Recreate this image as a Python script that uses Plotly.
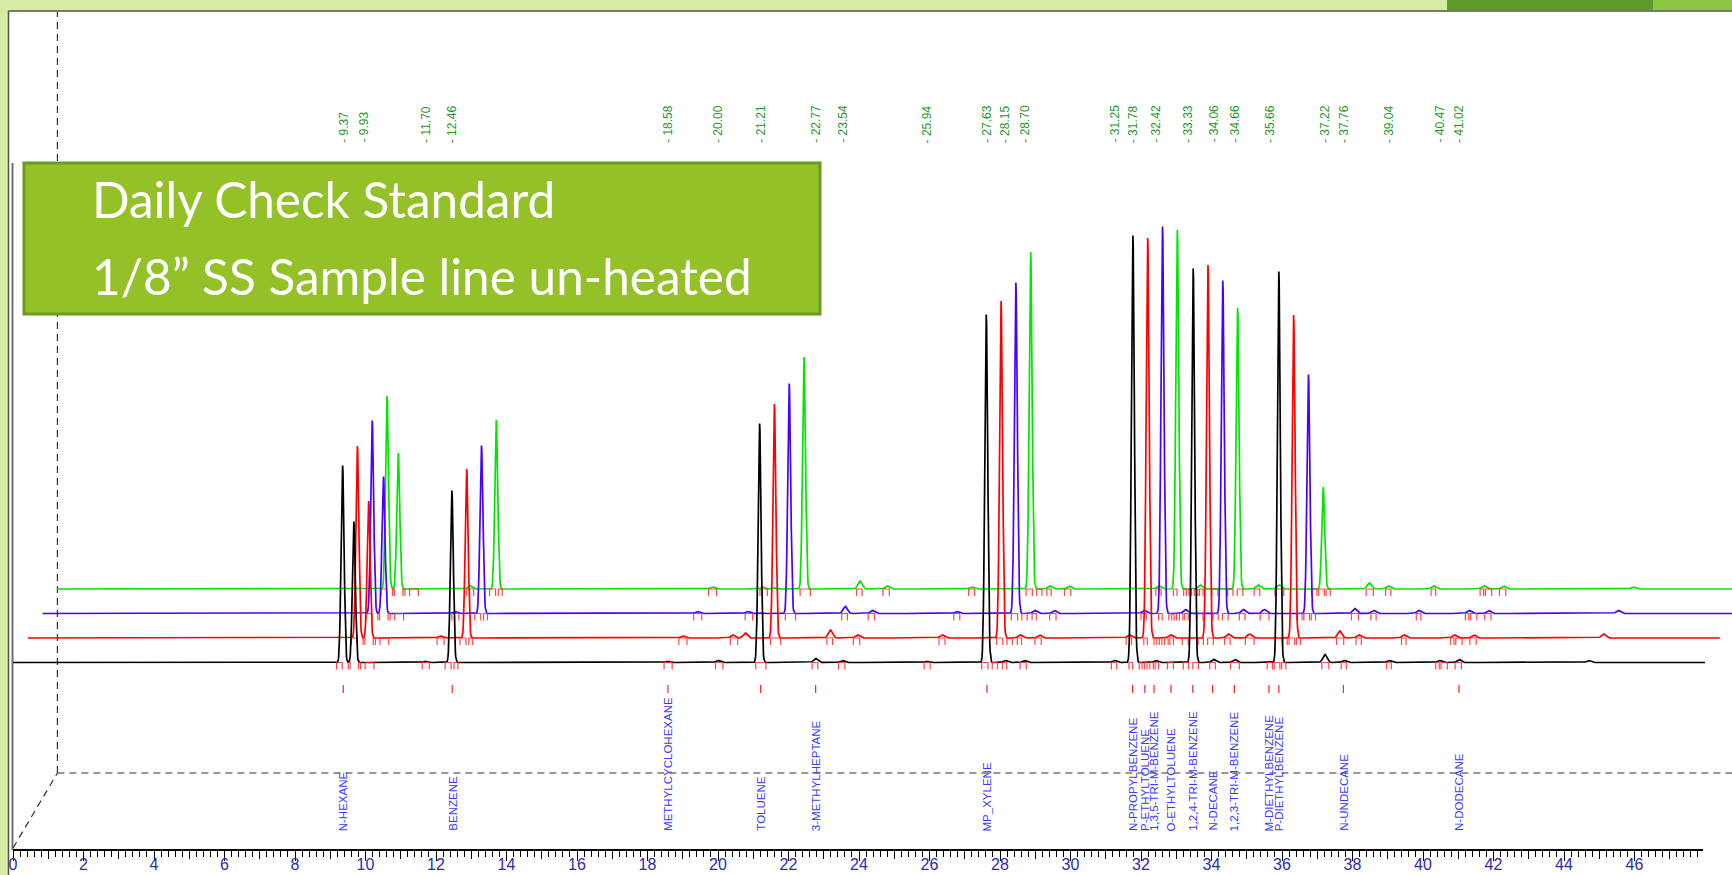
import numpy as np
import plotly.graph_objects as go

# ---------------- data ----------------
# main peaks (retention time, min) and heights of the four runs
peak_rt = [9.35, 9.67, 12.45, 21.18, 27.61, 31.77, 33.48, 35.91]
h_black = [197, 141, 172, 239, 348, 427, 394, 391]
h_red = [192, 137, 169, 234, 337, 400, 373, 323]
h_blue = [193, 137, 168, 230, 331, 387, 333, 239]
h_green = [193, 136, 169, 232, 337, 359, 281, 102]

# small peaks / bumps
minor_rt = [11.70, 18.58, 20.00, 20.35, 22.77, 23.54, 25.94, 28.15, 28.70, 31.25,
            32.42, 34.06, 34.66, 37.22, 37.76, 39.04, 40.47, 41.02, 44.70]
m_black = [1, 1, 2, 0, 4, 2, 1, 2, 2, 2, 2, 3, 3, 8, 2, 2, 2, 3, 2]
m_red = [2, 2, 3, 5, 8, 3, 3, 3, 3, 3, 3, 4, 4, 7, 3, 3, 3, 3, 4]
m_blue = [2, 2, 2, 1, 7, 3, 2, 3, 3, 3, 4, 4, 4, 5, 3, 3, 3, 3, 3]
m_green = [3, 2, 2, 1, 8, 3, 2, 3, 3, 3, 4, 4, 4, 6, 3, 3, 3, 3, 2]

# integration windows (start, end) of detected peaks
win_start = [9.18, 9.51, 9.80, 9.99, 11.61, 12.26, 12.51, 18.47, 19.93, 21.07, 22.67, 23.42,
             25.85, 27.48, 27.78, 28.07, 28.57, 31.16, 31.66, 31.95, 32.10, 32.25, 32.40,
             32.75, 33.20, 33.47, 33.95, 34.54, 35.58, 35.78, 35.99, 37.13, 37.68, 38.97,
             40.36, 40.51, 40.91]
win_end = [9.34, 9.56, 9.86, 10.24, 11.81, 12.43, 12.62, 18.70, 20.14, 21.36, 22.83, 23.60,
           26.02, 27.66, 27.93, 28.19, 28.75, 31.31, 31.76, 32.03, 32.17, 32.35, 32.50,
           32.92, 33.35, 33.63, 34.11, 34.79, 35.73, 35.94, 36.11, 37.33, 37.83, 39.10,
           40.46, 40.69, 41.09]

# retention time labels (top)
rt_labels = ["9.37", "9.93", "11.70", "12.46", "18.58", "20.00", "21.21", "22.77", "23.54",
             "25.94", "27.63", "28.15", "28.70", "31.25", "31.78", "32.42", "33.33", "34.06",
             "34.66", "35.66", "37.22", "37.76", "39.04", "40.47", "41.02"]

# identified compounds (bottom)
comp_names = ["N-HEXANE", "BENZENE", "METHYLCYCLOHEXANE", "TOLUENE", "3-METHYLHEPTANE",
              "MP_XYLENE", "N-PROPYLBENZENE", "P-ETHYLTOLUENE", "1,3,5-TRI-M-BENZENE",
              "O-ETHYLTOLUENE", "1,2,4-TRI-M-BENZENE", "N-DECANE", "1,2,3-TRI-M-BENZENE",
              "M-DIETHYLBENZENE", "P-DIETHYLBENZENE", "N-UNDECANE", "N-DODECANE"]
comp_rt = [9.37, 12.46, 18.58, 21.21, 22.77, 27.63, 31.76, 32.11, 32.37, 32.85, 33.47,
           34.03, 34.65, 35.63, 35.91, 37.74, 41.02]

# ---------------- geometry / style ----------------
W, H = 1732, 875
PX = 35.25          # px per minute
X0 = 13             # px of t = 0
YB = 662.5          # px row of the front (black) baseline
AXIS_PX = 850       # px row of the time axis
T_END = 48.0

run_colors = ["#000000", "#ff0000", "#4a00ff", "#00e600"]
run_dx = [0.0, 0.42, 0.84, 1.26]       # pseudo-3D shift (min)
run_dy = [0.0, 24.5, 49.0, 73.5]       # pseudo-3D shift (px units)

t = np.round(np.arange(0, T_END + 1e-9, 0.01), 3)


def chrom(hmain, hminor):
    y = np.zeros_like(t)
    for r, h in zip(peak_rt, hmain):
        y += h * np.exp(-0.5 * ((t - r) / 0.042) ** 2)
    for r, h in zip(minor_rt, hminor):
        y += h * np.exp(-0.5 * ((t - r) / 0.06) ** 2)
    return y


runs = [(h_black, m_black), (h_red, m_red), (h_blue, m_blue), (h_green, m_green)]

fig = go.Figure()

# draw from back to front
for k in [3, 2, 1, 0]:
    hm, hn = runs[k]
    y = chrom(hm, hn) + run_dy[k]
    fig.add_trace(go.Scatter(x=t + run_dx[k], y=y, mode="lines",
                             line=dict(color=run_colors[k], width=1.7),
                             hoverinfo="skip", showlegend=False))
    # integration markers
    mx, my = [], []
    for s, e in zip(win_start, win_end):
        mx += [s + run_dx[k], s + run_dx[k], e + run_dx[k], e + run_dx[k], None]
        my += [run_dy[k] - 7, run_dy[k], run_dy[k], run_dy[k] - 7, None]
    fig.add_trace(go.Scatter(x=mx, y=my, mode="lines",
                             line=dict(color="rgba(255,40,40,0.85)", width=1.2),
                             hoverinfo="skip", showlegend=False))

# identification ticks (front axis)
ix, iy = [], []
for r in comp_rt:
    ix += [r, r, None]
    iy += [YB - 685, YB - 693, None]
fig.add_trace(go.Scatter(x=ix, y=iy, mode="lines", xaxis="x2", yaxis="y",
                         line=dict(color="#ff2020", width=1.2),
                         hoverinfo="skip", showlegend=False))
fig.add_trace(go.Scatter(x=[], y=[], xaxis="x3", yaxis="y", showlegend=False))

# ---------------- annotations ----------------
ann = []
for lab in rt_labels:
    ann.append(dict(x=float(lab), y=1 - 144 / H, xref="x", yref="paper",
                    text="- " + lab, textangle=-90, showarrow=False,
                    xanchor="center", yanchor="bottom", borderpad=0,
                    font=dict(family="Liberation Sans, Arial", size=12, color="#1f9a1f")))
for name, r in zip(comp_names, comp_rt):
    ann.append(dict(x=r, y=1 - 832 / H, xref="x", yref="paper",
                    text=name, textangle=-90, showarrow=False,
                    xanchor="center", yanchor="bottom", borderpad=0,
                    font=dict(family="Liberation Sans, Arial", size=11.5, color="#3a3aff")))

ann.append(dict(x=90 / W, y=1 - 199 / H, xref="paper", yref="paper", text="Daily Check Standard",
                showarrow=False, xanchor="left", yanchor="middle",
                font=dict(family="Lato", size=49.5, color="white")))
ann.append(dict(x=90 / W, y=1 - 276 / H, xref="paper", yref="paper",
                text="1/8\u201d SS Sample line un-heated",
                showarrow=False, xanchor="left", yanchor="middle",
                font=dict(family="Lato", size=49.5, color="white")))

# ---------------- shapes ----------------
def px(xp):
    return xp / W


def py(yp):
    return 1 - yp / H


shapes = [
    # white slide panel
    dict(type="rect", xref="paper", yref="paper", x0=px(8.5), x1=1, y0=0, y1=py(11),
         fillcolor="white", line=dict(width=0), layer="below"),
    # top-right decorative bars
    dict(type="rect", xref="paper", yref="paper", x0=px(1447), x1=px(1653), y0=py(10), y1=1,
         fillcolor="#5e9b2c", line=dict(width=0), layer="below"),
    dict(type="rect", xref="paper", yref="paper", x0=px(1653), x1=1, y0=py(10), y1=1,
         fillcolor="#8ec63f", line=dict(width=0), layer="below"),
    # frame lines
    dict(type="line", xref="paper", yref="paper", x0=px(8.5), x1=1, y0=py(11), y1=py(11),
         line=dict(color="#505050", width=1.5), layer="below"),
    dict(type="line", xref="paper", yref="paper", x0=px(8.5), x1=px(8.5), y0=0, y1=py(11),
         line=dict(color="#505050", width=1.5), layer="below"),
    dict(type="line", xref="paper", yref="paper", x0=px(12.5), x1=px(12.5), y0=py(AXIS_PX), y1=py(163),
         line=dict(color="#707070", width=2), layer="below"),
    # pseudo-3D dashed axes
    dict(type="line", xref="x", yref="y", x0=run_dx[3], x1=run_dx[3], y0=YB - 773, y1=YB - 12,
         line=dict(color="#333333", width=1.2, dash="7px,5px"), layer="below"),
    dict(type="line", xref="x", yref="y", x0=run_dx[3], x1=60, y0=YB - 773, y1=YB - 773,
         line=dict(color="#333333", width=1.2, dash="7px,5px"), layer="below"),
    dict(type="line", xref="x", yref="y", x0=0, x1=run_dx[3], y0=YB - AXIS_PX + 2, y1=YB - 773,
         line=dict(color="#333333", width=1.2, dash="7px,5px"), layer="below"),
    # title box
    dict(type="rect", xref="paper", yref="paper", x0=px(24), x1=px(820), y0=py(314), y1=py(163),
         fillcolor="#93c127", line=dict(color="#6a9b1f", width=3), layer="above"),
]

tick_font = dict(family="Liberation Sans, Arial", size=16, color="#2c2cae")
fig.update_layout(
    width=W, height=H, margin=dict(l=0, r=0, t=0, b=0, pad=0, autoexpand=False),
    paper_bgcolor="#d6eca3", plot_bgcolor="rgba(0,0,0,0)",
    showlegend=False,
    xaxis=dict(domain=[0, 1], range=[-X0 / PX, (W - X0) / PX], visible=False,
               fixedrange=True, automargin=False),
    yaxis=dict(domain=[0, 1], range=[YB - H, YB], visible=False, fixedrange=True,
               automargin=False),
    xaxis2=dict(domain=[px(X0), px(X0 + PX * 47.94)], range=[0, 47.94], anchor="free",
                position=(H - AXIS_PX) / H, showline=True, linecolor="black", linewidth=1.5,
                ticks="outside", ticklen=10, tickwidth=1, tickcolor="black",
                tickmode="linear", tick0=0, dtick=2, tickfont=tick_font, automargin=False,
                ticklabelstandoff=-10,
                showgrid=False, zeroline=False, fixedrange=True,
                minor=dict(ticks="outside", ticklen=6, tickwidth=1, tickcolor="black",
                           tickmode="linear", tick0=0, dtick=0.2, showgrid=False)),
    xaxis3=dict(domain=[px(X0), px(X0 + PX * 47.94)], range=[0, 47.94], anchor="free",
                position=(H - AXIS_PX) / H, showline=False, showticklabels=False,
                ticks="outside", ticklen=8, tickwidth=1, tickcolor="black", automargin=False,
                tickmode="linear", tick0=1, dtick=2, showgrid=False, zeroline=False,
                fixedrange=True),
    annotations=ann,
    shapes=shapes,
)

fig.write_html("out.html")
